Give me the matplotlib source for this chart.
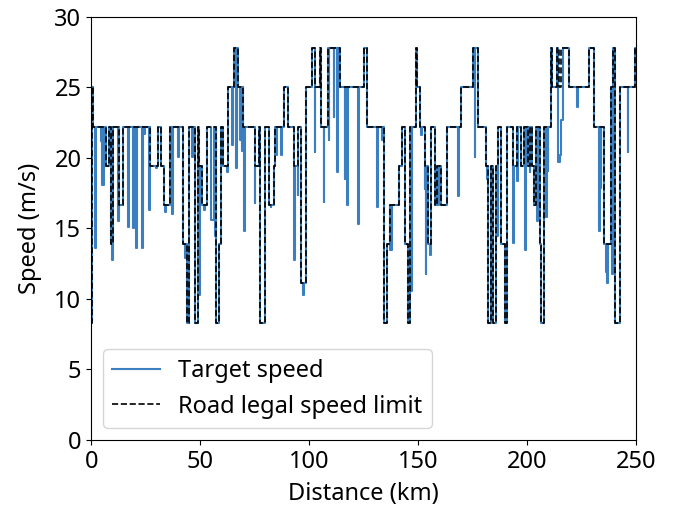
import numpy as np
import matplotlib
matplotlib.use("Agg")
import matplotlib.pyplot as plt

plt.rcParams['font.family'] = ['Noto Sans', 'DejaVu Sans']
plt.rcParams['font.size'] = 17

# Road legal speed limit: segment start (km) and limit (m/s)
limit_km = [0.0, 0.3, 1.0, 6.6, 8.1, 9.3, 10.1, 12.8, 14.7, 26.9, 30.5, 31.9, 33.4, 36.0,
            42.3, 44.0, 45.0, 47.6, 49.1, 49.7, 50.9, 53.0, 57.4, 58.6, 59.8, 60.7, 62.8,
            65.6, 67.4, 69.7, 75.4, 76.9, 77.6, 79.6, 81.7, 84.0, 84.6, 88.5, 90.4, 93.0,
            95.0, 96.5, 98.7, 101.5, 102.6, 105.0, 105.6, 108.7, 114.0, 125.2, 126.8,
            134.4, 136.0, 137.0, 141.2, 142.8, 144.2, 145.4, 146.4, 149.0, 149.6, 150.8,
            153.4, 154.6, 156.0, 157.6, 158.7, 160.4, 163.4, 169.6, 175.2, 177.5, 181.3,
            182.3, 183.4, 184.4, 186.0, 186.7, 188.2, 190.1, 191.0, 193.6, 195.5, 197.5,
            198.5, 200.5, 201.5, 202.3, 203.2, 204.3, 205.8, 206.3, 207.8, 210.9, 211.5,
            213.9, 214.7, 215.8, 219.3, 228.4, 230.6, 231.0, 235.3, 238.7, 239.5, 240.6,
            242.5, 249.6]
limit_ms = [8.33, 25.0, 22.22, 19.44, 22.22, 13.89, 22.22, 16.67, 22.22, 19.44, 22.22, 19.44,
            16.67, 22.22, 13.89, 8.33, 22.22, 8.33, 22.22, 19.44, 16.67, 22.22, 8.33, 13.89,
            22.22, 19.44, 25.0, 27.78, 25.0, 22.22, 19.44, 22.22, 8.33, 22.22, 16.67, 19.44,
            22.22, 25.0, 22.22, 19.44, 22.22, 11.11, 25.0, 27.78, 25.0, 27.78, 22.22, 27.78,
            25.0, 27.78, 22.22, 8.33, 13.89, 16.67, 19.44, 22.22, 13.89, 8.33, 22.22, 27.78,
            25.0, 22.22, 19.44, 13.89, 22.22, 16.67, 19.44, 16.67, 22.22, 25.0, 27.78, 22.22,
            19.44, 8.33, 19.44, 8.33, 19.44, 22.22, 13.89, 8.33, 22.22, 19.44, 22.22, 19.44,
            22.22, 19.44, 22.22, 19.44, 16.67, 22.22, 13.89, 8.33, 22.22, 27.78, 25.0, 27.78,
            25.0, 27.78, 25.0, 27.78, 25.0, 22.22, 13.89, 25.0, 27.78, 8.33, 25.0, 27.78]
end_km = 250.0

# Target speed reductions below the limit: position (km), width (km), speed (m/s)
dip_km = [1.8, 4.6, 5.2, 9.7, 12.4, 17.1, 19.4, 20.8, 23.4, 24.2, 26.5, 30.0, 34.1, 37.2,
          39.9, 43.0, 46.5, 49.6, 51.8, 55.2, 57.0, 62.3, 64.7, 66.7, 68.5, 69.3, 70.2,
          75.1, 82.4, 85.0, 87.3, 93.0, 94.8, 97.2, 102.6, 106.7, 109.0, 111.3, 112.8,
          116.4, 117.4, 122.5, 131.2, 133.5, 137.3, 144.6, 147.0, 151.6, 153.1, 153.5,
          155.4, 159.2, 168.5, 176.0, 181.7, 186.4, 193.6, 195.6, 199.2, 201.2, 204.7,
          208.9, 209.6, 214.2, 215.0, 215.5, 223.0, 233.3, 233.8, 236.1, 236.7, 239.0,
          246.3]
dip_width = [0.4, 0.3, 0.8, 0.4, 0.3, 0.3, 0.4, 0.3, 0.3, 0.3, 0.3, 0.3, 0.4, 0.3,
             0.3, 0.4, 0.3, 0.3, 0.4, 1.0, 0.3, 0.4, 0.3, 0.3, 0.3, 0.3, 0.4,
             0.3, 0.3, 0.3, 0.3, 0.4, 0.3, 0.4, 0.3, 0.3, 0.3, 0.3, 0.3,
             0.3, 0.3, 0.3, 0.3, 0.3, 0.6, 0.3, 0.4, 0.3, 0.3, 0.3,
             0.4, 0.3, 0.3, 0.3, 0.3, 0.4, 0.4, 0.3, 0.3, 0.3, 0.3,
             0.3, 0.3, 0.8, 0.5, 1.0, 0.3, 0.3, 0.3, 0.5, 0.4, 0.4,
             0.3]
dip_ms = [13.6, 21.2, 18.1, 12.8, 15.5, 15.1, 15.0, 13.6, 13.6, 21.7, 16.3, 19.3, 16.2, 16.0,
          20.1, 12.9, 20.1, 10.3, 16.3, 15.6, 14.5, 19.0, 20.9, 19.3, 21.3, 20.5, 14.8,
          16.8, 16.5, 20.2, 20.2, 12.8, 17.4, 10.3, 20.4, 16.9, 21.3, 22.9, 19.0,
          18.5, 16.7, 15.3, 16.5, 21.3, 13.5, 15.2, 10.6, 21.6, 17.8, 11.8,
          13.1, 16.7, 17.3, 20.1, 18.5, 14.5, 14.0, 18.4, 13.5, 19.0, 15.5,
          15.8, 19.1, 19.7, 20.2, 22.7, 23.6, 14.8, 17.9, 11.9, 11.1, 11.8,
          20.4]


def limit_at(x):
    i = np.searchsorted(limit_km, x, side='right') - 1
    return limit_ms[max(i, 0)]


# Build the target speed profile as a step series over all breakpoints
edges = set(limit_km) | {end_km}
for k, w in zip(dip_km, dip_width):
    edges.add(k)
    edges.add(k + w)
edges = np.array(sorted(edges))
target = []
for a, b in zip(edges[:-1], edges[1:]):
    mid = 0.5 * (a + b)
    v = limit_at(mid)
    for k, w, d in zip(dip_km, dip_width, dip_ms):
        if k <= mid < k + w:
            v = min(v, d)
    target.append(v)
target.append(target[-1])

lim_x = list(limit_km) + [end_km]
lim_y = list(limit_ms) + [limit_ms[-1]]

fig = plt.figure(figsize=(6.75, 5.09), dpi=100)
ax = fig.add_axes([0.135, 0.1356, 0.807, 0.831])

ax.plot(edges, target, drawstyle='steps-post', color='#3b7fc0', lw=1.5,
        label='Target speed')
ax.plot(lim_x, lim_y, drawstyle='steps-post', color='black', lw=1.2,
        linestyle='--', label='Road legal speed limit')

ax.set_xlim(0, 250)
ax.set_ylim(0, 30)
ax.set_xticks([0, 50, 100, 150, 200, 250])
ax.set_yticks([0, 5, 10, 15, 20, 25, 30])
ax.set_xlabel('Distance (km)', labelpad=6)
ax.set_ylabel('Speed (m/s)', labelpad=9)
ax.legend(loc='lower left', borderaxespad=0.5)

fig.savefig('out.png', dpi=100)
